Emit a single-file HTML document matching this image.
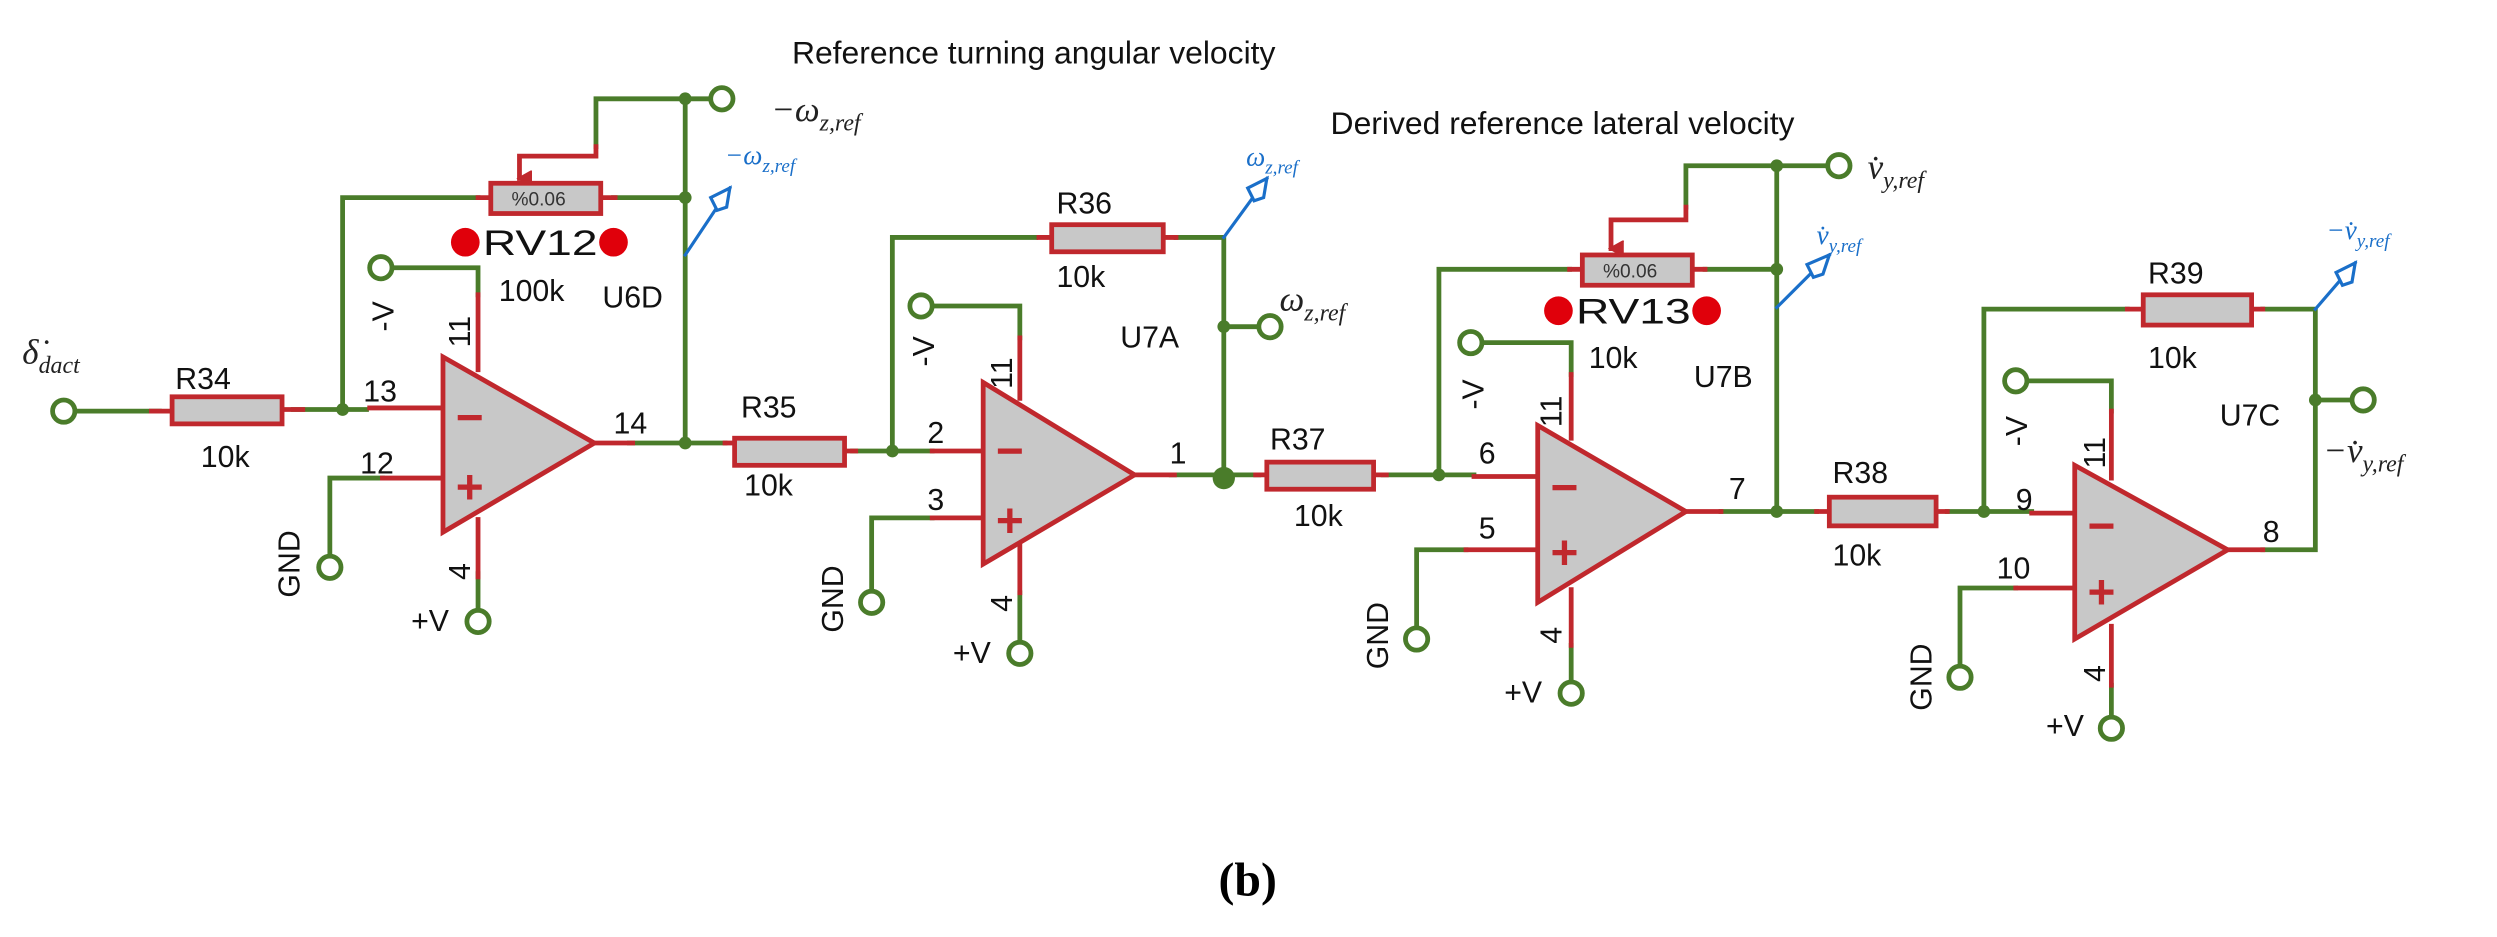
<!DOCTYPE html>
<html><head><style>html,body{margin:0;padding:0;background:#fff}svg{display:block}</style></head>
<body>
<svg width="2497" height="937" viewBox="0 0 1567 588" preserveAspectRatio="none" xmlns="http://www.w3.org/2000/svg" font-family="Liberation Sans, sans-serif">
<defs>
<marker id="ar" markerWidth="10" markerHeight="10" refX="5" refY="8" orient="auto" markerUnits="userSpaceOnUse"><path d="M0,0 L5,9 L10,0" fill="#c0282d" stroke="#c0282d" stroke-width="1"/></marker>
</defs>
<g fill="none" stroke-width="3" stroke-linecap="square">
<g stroke="#4a7c2a">
<path d="M47,258 H100"/><path d="M184,257 H230"/>
<path d="M215,257 V124 H300"/><path d="M385,124 H430"/>
<path d="M430,62 V278"/><path d="M430,62 H446"/><path d="M430,62 H374 V92"/>
<path d="M246,168 H300 V185"/><path d="M300,360 V383"/><path d="M207,349 V300 H240"/>
<path d="M395,278 H455"/><path d="M535,283 H585"/>
<path d="M560,283 V149 H650"/><path d="M738,149 H768 V298"/><path d="M768,205 H790"/>
<path d="M586,192 H640 V212"/><path d="M640,372 V403"/><path d="M547,371 V325 H585"/>
<path d="M735,298 H790"/><path d="M868,298 H925"/>
<path d="M903,298 V169 H985"/><path d="M1070,169 H1115"/>
<path d="M1115,104 V321"/><path d="M1115,104 H1147"/><path d="M1115,104 H1058 V130"/>
<path d="M931,215 H986 V235"/><path d="M986,405 V428"/><path d="M889,394 V345 H920"/>
<path d="M1080,321 H1140"/><path d="M1222,321 H1275"/>
<path d="M1245,321 V194 H1335"/><path d="M1420,194 H1453 V345 H1420"/><path d="M1453,251 H1476"/>
<path d="M1273,239 H1325 V258"/><path d="M1325,430 V450"/><path d="M1230,418 V369 H1265"/>
</g>
<g stroke="#c0282d">
<path d="M95,258 H108"/><path d="M177,257 H190"/><path d="M232,256 H278"/><path d="M240,300 H278"/>
<path d="M300,185 V232"/><path d="M300,326 V362"/><path d="M373,278 H397"/>
<path d="M300,124 H308"/><path d="M377,124 H386"/>
<path d="M374,92 V98 H326 V112" marker-end="url(#ar)"/>
<path d="M455,278 H461"/><path d="M530,283 H537"/><path d="M585,283 H617"/><path d="M585,325 H617"/>
<path d="M640,212 V250"/><path d="M640,334 V372"/><path d="M712,298 H737"/>
<path d="M652,149 H660"/><path d="M730,149 H738"/>
<path d="M788,298 H795"/><path d="M862,298 H870"/><path d="M925,299 H965"/><path d="M920,345 H965"/>
<path d="M986,235 V275"/><path d="M986,370 V405"/><path d="M1058,321 H1080"/>
<path d="M985,169 H993"/><path d="M1062,169 H1070"/>
<path d="M1058,130 V138 H1011 V156" marker-end="url(#ar)"/>
<path d="M1140,321 H1148"/><path d="M1215,321 H1222"/><path d="M1275,322 H1302"/><path d="M1265,369 H1302"/>
<path d="M1325,258 V300"/><path d="M1325,393 V430"/><path d="M1398,345 H1420"/>
<path d="M1335,194 H1345"/><path d="M1413,194 H1420"/>
</g>
<g stroke="#c0282d" fill="#c8c8c8">
<rect x="108" y="249" width="69" height="17"/>
<rect x="461" y="275" width="69" height="17"/>
<rect x="660" y="141" width="70" height="17"/>
<rect x="795" y="290" width="67" height="17"/>
<rect x="1148" y="312" width="67" height="18"/>
<rect x="1345" y="185" width="68" height="19"/>
<rect x="308" y="115" width="69" height="19"/>
<rect x="993" y="160" width="69" height="19"/>
<path d="M278,224 L373,278 L278,334 Z"/>
<path d="M617,240 L712,298 L617,354 Z"/>
<path d="M965,267 L1058,321 L965,378 Z"/>
<path d="M1302,292 L1398,345 L1302,401 Z"/>
</g>
<g stroke="#4a7c2a" fill="#fff">
<circle cx="40" cy="258" r="7"/>
<circle cx="239" cy="168" r="7"/><circle cx="300" cy="390" r="7"/><circle cx="207" cy="356" r="7"/>
<circle cx="453" cy="62" r="7"/>
<circle cx="578" cy="192" r="7"/><circle cx="640" cy="410" r="7"/><circle cx="547" cy="378" r="7"/>
<circle cx="797" cy="205" r="7"/>
<circle cx="923" cy="215" r="7"/><circle cx="986" cy="435" r="7"/><circle cx="889" cy="401" r="7"/>
<circle cx="1154" cy="104" r="7"/>
<circle cx="1265" cy="239" r="7"/><circle cx="1325" cy="457" r="7"/><circle cx="1230" cy="425" r="7"/>
<circle cx="1483" cy="251" r="7"/>
</g>
<g stroke="#1a6fc9" stroke-width="2">
<path d="M430,160 L458,118"/><path d="M450,132 L446,124 L458,118 L456,130 Z" fill="#fff"/>
<path d="M768,149 L795,112"/><path d="M787,126 L783,118 L795,112 L793,124 Z" fill="#fff"/>
<path d="M1115,193 L1148,160"/><path d="M1138,174 L1134,166 L1148,160 L1144,172 Z" fill="#fff"/>
<path d="M1453,194 L1478,165"/><path d="M1470,179 L1466,171 L1478,165 L1476,177 Z" fill="#fff"/>
</g>
</g>
<g fill="#4a7c2a">
<circle cx="215" cy="257" r="4"/><circle cx="430" cy="62" r="4"/><circle cx="430" cy="124" r="4"/><circle cx="430" cy="278" r="4"/>
<circle cx="560" cy="283" r="4"/><circle cx="768" cy="205" r="4"/><circle cx="768" cy="300" r="7"/>
<circle cx="903" cy="298" r="4"/><circle cx="1115" cy="104" r="4"/><circle cx="1115" cy="169" r="4"/><circle cx="1115" cy="321" r="4"/>
<circle cx="1245" cy="321" r="4"/><circle cx="1453" cy="251" r="4"/>
</g>
<g fill="#e0000b">
<circle cx="292" cy="152" r="9"/><circle cx="385" cy="152" r="9"/>
<circle cx="978" cy="195" r="9"/><circle cx="1071" cy="195" r="9"/>
</g>
<g fill="#c0282d" font-size="30" font-weight="bold">
<text x="286" y="272">−</text><text x="286" y="316">+</text>
<text x="625" y="293">−</text><text x="625" y="337">+</text>
<text x="973" y="316">−</text><text x="973" y="357">+</text>
<text x="1310" y="340">−</text><text x="1310" y="382">+</text>
</g>
<g fill="#111" font-size="19">
<text x="497" y="40" font-size="20">Reference turning angular velocity</text>
<text x="835" y="84" font-size="20">Derived reference lateral velocity</text>
<text x="110" y="244">R34</text><text x="126" y="293">10k</text>
<text x="303" y="160" font-size="22" textLength="72" lengthAdjust="spacingAndGlyphs">RV12</text><text x="313" y="189">100k</text><text x="378" y="193">U6D</text>
<text x="465" y="262">R35</text><text x="467" y="311">10k</text>
<text x="663" y="134">R36</text><text x="663" y="180">10k</text><text x="703" y="218">U7A</text>
<text x="797" y="282">R37</text><text x="812" y="330">10k</text>
<text x="989" y="203" font-size="22" textLength="72" lengthAdjust="spacingAndGlyphs">RV13</text><text x="997" y="231">10k</text><text x="1063" y="243">U7B</text>
<text x="1150" y="303">R38</text><text x="1150" y="355">10k</text>
<text x="1348" y="178">R39</text><text x="1348" y="231">10k</text><text x="1393" y="267">U7C</text>
<text x="228" y="252">13</text><text x="226" y="297">12</text><text x="385" y="272">14</text>
<text x="582" y="278">2</text><text x="582" y="320">3</text><text x="734" y="291">1</text>
<text x="928" y="291">6</text><text x="928" y="338">5</text><text x="1085" y="313">7</text>
<text x="1265" y="320">9</text><text x="1253" y="363">10</text><text x="1420" y="340">8</text>
<text x="258" y="396">+V</text><text x="598" y="416">+V</text><text x="944" y="441">+V</text><text x="1284" y="462">+V</text>
<text transform="translate(247,208) rotate(-90)">-V</text>
<text transform="translate(295,218) rotate(-90)">11</text>
<text transform="translate(295,364) rotate(-90)">4</text>
<text transform="translate(188,375) rotate(-90)">GND</text>
<text transform="translate(586,230) rotate(-90)">-V</text>
<text transform="translate(635,244) rotate(-90)">11</text>
<text transform="translate(635,384) rotate(-90)">4</text>
<text transform="translate(529,397) rotate(-90)">GND</text>
<text transform="translate(931,257) rotate(-90)">-V</text>
<text transform="translate(980,268) rotate(-90)">11</text>
<text transform="translate(980,404) rotate(-90)">4</text>
<text transform="translate(871,420) rotate(-90)">GND</text>
<text transform="translate(1272,280) rotate(-90)">-V</text>
<text transform="translate(1321,294) rotate(-90)">11</text>
<text transform="translate(1321,428) rotate(-90)">4</text>
<text transform="translate(1212,446) rotate(-90)">GND</text>
</g>
<g fill="#222" font-family="Liberation Serif, serif" font-style="italic" font-size="22">
<text x="14" y="228">δ̇<tspan font-size="15" dy="6">dact</tspan></text>
<text x="484" y="76">−ω<tspan font-size="15" dy="6">z,ref</tspan></text>
<text x="803" y="195">ω<tspan font-size="15" dy="6">z,ref</tspan></text>
<text x="1172" y="112">v̇<tspan font-size="15" dy="6">y,ref</tspan></text>
<text x="1458" y="290">−v̇<tspan font-size="15" dy="6">y,ref</tspan></text>
</g>
<g fill="#1a6fc9" font-family="Liberation Serif, serif" font-style="italic" font-size="17">
<text x="455" y="103">−ω<tspan font-size="12" dy="5">z,ref</tspan></text>
<text x="782" y="104">ω<tspan font-size="12" dy="5">z,ref</tspan></text>
<text x="1140" y="153">v̇<tspan font-size="12" dy="5">y,ref</tspan></text>
<text x="1460" y="150">−v̇<tspan font-size="12" dy="5">y,ref</tspan></text>
</g>
<g fill="#333" font-size="12">
<text x="321" y="129">%0.06</text><text x="1006" y="174">%0.06</text>
</g>
<text x="783" y="562" text-anchor="middle" font-family="Liberation Serif, serif" font-weight="bold" font-size="30" fill="#000">(b)</text>
</svg>
</body></html>
